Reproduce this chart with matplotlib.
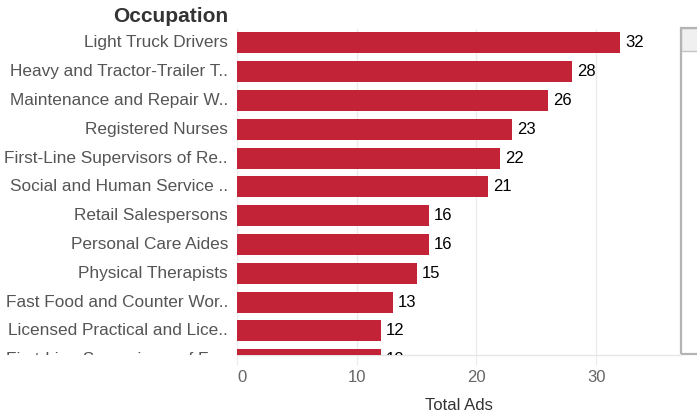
import matplotlib.pyplot as plt
from matplotlib.patches import Rectangle
from matplotlib.transforms import Bbox, TransformedBbox, blended_transform_factory

plt.rcParams['font.family'] = ['Liberation Sans', 'DejaVu Sans']

# data
occupations = [
    "Light Truck Drivers",
    "Heavy and Tractor-Trailer T..",
    "Maintenance and Repair W..",
    "Registered Nurses",
    "First-Line Supervisors of Re..",
    "Social and Human Service ..",
    "Retail Salespersons",
    "Personal Care Aides",
    "Physical Therapists",
    "Fast Food and Counter Wor..",
    "Licensed Practical and Lice..",
    "First-Line Supervisors of Fo..",
]
total_ads = [32, 28, 26, 23, 22, 21, 16, 16, 15, 13, 12, 12]
x_ticks = [0, 10, 20, 30]

W, H = 697, 417
fig = plt.figure(figsize=(W / 100, H / 100), dpi=100)

# plot area in pixels
left, right, top, bottom = 237, 680, 29, 355
ax = fig.add_axes([left / W, 1 - bottom / H, (right - left) / W, (bottom - top) / H])

bar_color = '#c32337'
pos = list(range(len(occupations)))
ax.barh(pos, total_ads, height=0.73, color=bar_color, zorder=2)

ax.set_xlim(0, 37)
ax.set_ylim(10.84, -0.486)

for s in ax.spines.values():
    s.set_visible(False)
ax.axhline(10.84, color='#e6e6e6', lw=1, zorder=1, clip_on=False)

ax.set_xticks(x_ticks)
ax.set_xticklabels([str(t) for t in x_ticks])
ax.tick_params(axis='x', length=7, color='#ebebeb', labelcolor='#666666',
               labelsize=12, pad=4)
ax.get_xticklabels()[0].set_ha('left')
ax.xaxis.grid(True, color='#ebebeb', lw=1, zorder=0)
ax.set_yticks([])
fig.text((left + right) / 2 / W, 1 - 405 / H, 'Total Ads', ha='center',
         va='center', fontsize=12, color='#333333')

# value labels
for i, v in enumerate(total_ads):
    ax.text(v + 0.4, i, str(v), va='center', ha='left', fontsize=12,
            color='black', zorder=3, clip_on=True)

# category labels, clipped at the bottom of the plot area like the scrolled view
clip = TransformedBbox(Bbox([[0, 1 - bottom / H], [1, 1]]), fig.transFigure)
trans = blended_transform_factory(ax.transAxes, ax.transData)
for i, name in enumerate(occupations):
    t = ax.text(-9 / (right - left), i, name, transform=trans, ha='right',
                va='center', fontsize=12.4, color='#555555')
    t.set_clip_on(True)
    t.set_clip_box(clip)

fig.text(228 / W, 1 - 17 / H, 'Occupation', ha='right', va='center',
         fontsize=15, fontweight='bold', color='#333333')

# scrollbar remnant on the right
fig.patches.append(Rectangle((681 / W, 1 - 51 / H), 20 / W, 23 / H,
                             transform=fig.transFigure, facecolor='#f0f0f0',
                             edgecolor='#c4c4c4', lw=1))
fig.patches.append(Rectangle((681 / W, 1 - 354 / H), 20 / W, 326 / H,
                             transform=fig.transFigure, facecolor='none',
                             edgecolor='#b4b4b4', lw=1.6))

plt.savefig('out.png', dpi=100)
